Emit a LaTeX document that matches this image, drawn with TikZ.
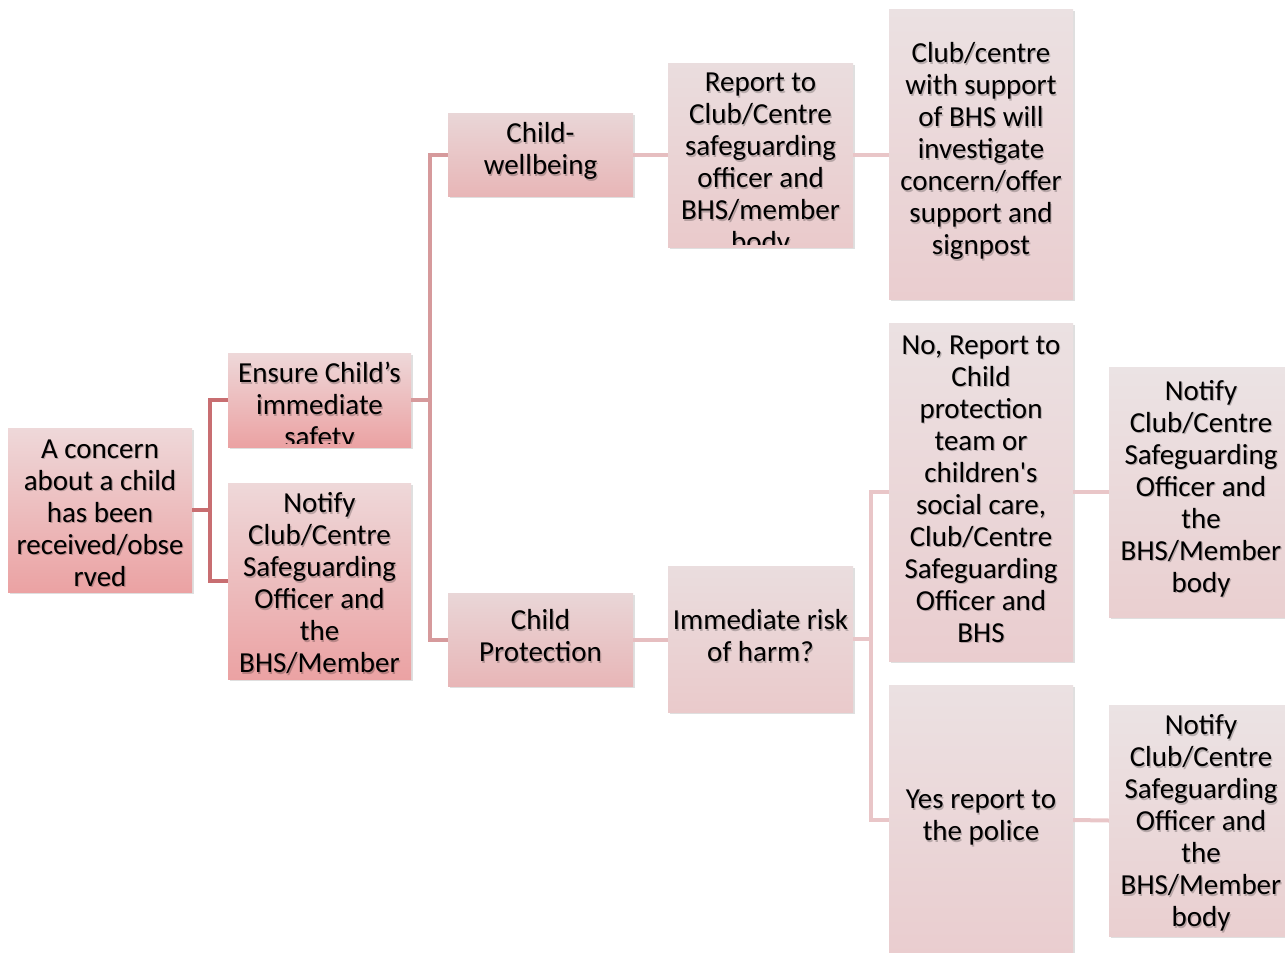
\documentclass[tikz,border=0pt]{standalone}
\usepackage{fontspec}
\setmainfont{Carlito}
\usetikzlibrary{shadows}
\definecolor{aT}{HTML}{EED8D9}\definecolor{aB}{HTML}{EBA2A3}
\definecolor{bT}{HTML}{E9D6D7}\definecolor{bB}{HTML}{E8B6B7}
\definecolor{cT}{HTML}{EADDDE}\definecolor{cB}{HTML}{EACACB}
\definecolor{dT}{HTML}{EBE1E2}\definecolor{dB}{HTML}{EACDCF}
\definecolor{eT}{HTML}{EBE3E4}\definecolor{eB}{HTML}{EACFD0}
\definecolor{lA}{HTML}{C86E71}
\definecolor{lB}{HTML}{D69A9C}
\definecolor{lC}{HTML}{E6BEC0}
\definecolor{lD}{HTML}{E9C6C8}
\tikzset{
  box/.style={draw=none, inner sep=0pt, minimum width=184pt,
    drop shadow={opacity=0.25, shadow xshift=1.5pt, shadow yshift=-2pt}},
  lva/.style={box, top color=aT, bottom color=aB},
  lvb/.style={box, top color=bT, bottom color=bB},
  lvc/.style={box, top color=cT, bottom color=cB},
  lvd/.style={box, top color=dT, bottom color=dB},
  lve/.style={box, top color=eT, bottom color=eB},
  txt/.style={inner sep=0pt, align=center, text=black,
    font=\fontsize{29}{32}\selectfont,
    preaction={}},
  tsh/.style={inner sep=0pt, align=center, text=black, text opacity=0.22,
    font=\fontsize{29}{32}\selectfont},
  conA/.style={draw=lA, line width=4.5pt},
  conB/.style={draw=lB, line width=4pt},
  conC/.style={draw=lC, line width=4pt},
  conD/.style={draw=lD, line width=4pt},
}
% text with a soft shadow: #1 name, #2 position, #3 text
\newcommand{\shtext}[3]{%
  \node[tsh] at ($#2+(1.2,1.6)$) {#3};
  \node[txt] (#1) at #2 {#3};}
\usetikzlibrary{calc}
\begin{document}
\begin{tikzpicture}[x=1pt, y=-1pt]
\useasboundingbox (0,0) rectangle (1285,953);
% boxes
\node[lva, minimum height=164pt] (concern) at (100,510) {};
\node[lva, minimum width=183pt, minimum height=94pt] (ensure) at (319.5,400) {};
\node[lva, minimum width=183pt, minimum height=196pt] (notifyL) at (319.5,581) {};
\node[lvb, minimum width=185pt, minimum height=83pt] (wellbeing) at (540.5,154.5) {};
\node[lvb, minimum width=185pt, minimum height=93pt] (protection) at (540.5,639.5) {};
\node[lvc, minimum width=185pt, minimum height=184pt] (report) at (760.5,155) {};
\node[lvc, minimum width=185pt, minimum height=146pt] (risk) at (760.5,639) {};
\node[lvd, minimum height=290pt] (clubc) at (981,154) {};
\node[lvd, minimum height=338pt] (no) at (981,492) {};
\node[lvd, minimum height=270pt] (yes) at (981,820) {};
\node[lve, minimum height=250pt] (notifyR1) at (1201,492) {};
\node[lve, minimum height=231pt] (notifyR2) at (1201,820.5) {};
% connectors
\draw[conA] (concern.east) -- ++(18,0) |- (ensure.west);
\draw[conA] (concern.east) -- ++(18,0) |- (notifyL.west);
\draw[conB] (ensure.east) -- ++(19,0) |- (wellbeing.west);
\draw[conB] (ensure.east) -- ++(19,0) |- (protection.west);
\draw[conC] (wellbeing.east) -- (wellbeing.east -| report.west);
\draw[conC] (protection.east) -- (protection.east -| risk.west);
\draw[conD] (report.east) -- (report.east -| clubc.west);
\draw[conD] (risk.east) -- ++(18,0) |- (no.west);
\draw[conD] (risk.east) -- ++(18,0) |- (yes.west);
\draw[conD] (no.east) -- (notifyR1.west);
\draw[conD] (yes.east) -- (notifyR2.west);
% texts
\shtext{concernT}{(100,513)}{A concern\\about a child\\has been\\received/obse\\rved}
\begin{scope}
\clip ([yshift=4pt]ensure.south west) rectangle (ensure.north east);
\shtext{ensureT}{(319.5,407)}{Ensure Child’s\\immediate\\safety}
\end{scope}
\shtext{notifyLT}{(319.5,583)}{Notify\\Club/Centre\\Safeguarding\\Officer and\\the\\BHS/Member}
\shtext{wellbeingT}{(540.5,151)}{Child-\\wellbeing}
\shtext{protectionT}{(540.5,635.5)}{Child\\Protection}
\begin{scope}
\clip ([yshift=3pt]report.south west) rectangle (report.north east);
\shtext{reportT}{(760.5,164.5)}{Report to\\Club/Centre\\safeguarding\\officer and\\BHS/member\\body}
\end{scope}
\shtext{riskT}{(760.5,635.5)}{Immediate risk\\of harm?}
\shtext{clubcT}{(981,151)}{Club/centre\\with support\\of BHS will\\investigate\\concern/offer\\support and\\signpost}
\shtext{noT}{(981,489)}{No, Report to\\Child\\protection\\team or\\children\textquotesingle s\\social care,\\Club/Centre\\Safeguarding\\Officer and\\BHS}
\shtext{yesT}{(981,817.5)}{Yes report to\\the police}
\shtext{notifyR1T}{(1201,488.5)}{Notify\\Club/Centre\\Safeguarding\\Officer and\\the\\BHS/Member\\body}
\shtext{notifyR2T}{(1201,823)}{Notify\\Club/Centre\\Safeguarding\\Officer and\\the\\BHS/Member\\body}
\end{tikzpicture}
\end{document}
